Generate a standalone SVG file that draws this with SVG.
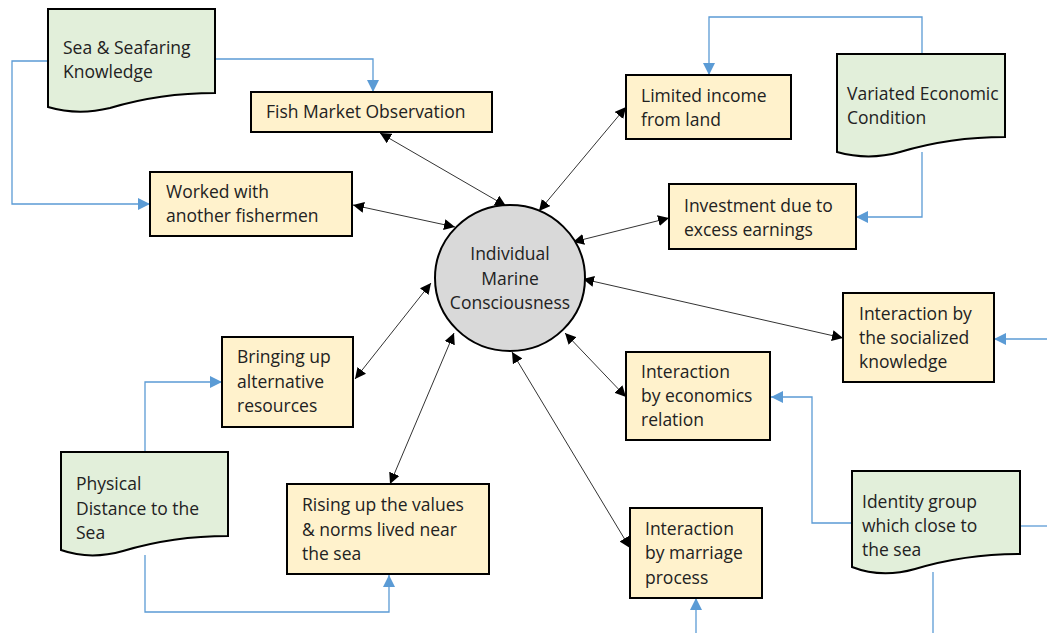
<svg xmlns="http://www.w3.org/2000/svg" width="1047" height="633" viewBox="0 0 1047 633">
<defs>
<style>
.box{fill:#FFF2CC;stroke:#000;stroke-width:2}
.doc{fill:#E2EFDA;stroke:#000;stroke-width:2}
.ctr{fill:#D9D9D9;stroke:#000;stroke-width:2}
.t{font-family:"Open Sans","Liberation Sans",sans-serif;font-size:17.5px;fill:#222}
.blue{fill:none;stroke:#5B9BD5;stroke-width:1.3}
.blk{fill:none;stroke:#333;stroke-width:1}
</style>
<marker id="ab" viewBox="0 0 10 10" refX="10" refY="5" markerWidth="11" markerHeight="11" markerUnits="userSpaceOnUse" orient="auto-start-reverse"><path d="M0,0 L10,5 L0,10 z" fill="#000"/></marker>
<marker id="bb" viewBox="0 0 10 10" refX="10" refY="5" markerWidth="12" markerHeight="12" markerUnits="userSpaceOnUse" orient="auto"><path d="M0,0 L10,5 L0,10 z" fill="#5B9BD5"/></marker>
</defs>
<rect width="1047" height="633" fill="#fff"/>
<g id="connectors">
<path class="blue" d="M48,61 H12 V204 H150" marker-end="url(#bb)"/>
<path class="blue" d="M215,59 H373 V92" marker-end="url(#bb)"/>
<path class="blue" d="M922,54 V17 H709 V75" marker-end="url(#bb)"/>
<path class="blue" d="M922,152 V217 H856" marker-end="url(#bb)"/>
<path class="blue" d="M1047,339 H994" marker-end="url(#bb)"/>
<path class="blue" d="M852,523 H812 V397 H771" marker-end="url(#bb)"/>
<path class="blue" d="M1020,526 H1047"/>
<path class="blue" d="M933,572 V633"/>
<path class="blue" d="M696,633 V598" marker-end="url(#bb)"/>
<path class="blue" d="M145,452 V382 H222" marker-end="url(#bb)"/>
<path class="blue" d="M145,555 V612 H389 V575" marker-end="url(#bb)"/>
<line class="blk" x1="380" y1="133" x2="506" y2="206" marker-start="url(#ab)" marker-end="url(#ab)"/>
<line class="blk" x1="353" y1="205" x2="455" y2="227" marker-start="url(#ab)" marker-end="url(#ab)"/>
<line class="blk" x1="626" y1="107" x2="539" y2="211" marker-start="url(#ab)" marker-end="url(#ab)"/>
<line class="blk" x1="669" y1="218" x2="573" y2="242" marker-start="url(#ab)" marker-end="url(#ab)"/>
<line class="blk" x1="843" y1="338" x2="583" y2="279" marker-start="url(#ab)" marker-end="url(#ab)"/>
<line class="blk" x1="626" y1="397" x2="565" y2="333" marker-start="url(#ab)" marker-end="url(#ab)"/>
<line class="blk" x1="630" y1="548" x2="512" y2="352" marker-start="url(#ab)" marker-end="url(#ab)"/>
<line class="blk" x1="390" y1="484" x2="454" y2="333" marker-start="url(#ab)" marker-end="url(#ab)"/>
<line class="blk" x1="355" y1="379" x2="431" y2="283" marker-start="url(#ab)" marker-end="url(#ab)"/>
</g>
<g id="center">
<ellipse class="ctr" cx="510" cy="278" rx="75" ry="73"/>
<text class="t" text-anchor="middle"><tspan x="510" y="260">Individual</tspan><tspan x="510" y="285">Marine</tspan><tspan x="510" y="309">Consciousness</tspan></text>
</g>
<g id="sea-knowledge">
<path class="doc" d="M48,9 H215 V93 C175,93 140,99 110,108 C85,114 65,112 48,107 Z"/>
<text class="t"><tspan x="63" y="54">Sea &amp; Seafaring</tspan><tspan x="63" y="78">Knowledge</tspan></text>
</g>
<g id="fish-market">
<rect class="box" x="251" y="92" width="241" height="40"/>
<text class="t" x="266" y="118">Fish Market Observation</text>
</g>
<g id="worked">
<rect class="box" x="150" y="172" width="202" height="64"/>
<text class="t"><tspan x="166" y="198">Worked with</tspan><tspan x="166" y="222">another fishermen</tspan></text>
</g>
<g id="limited-income">
<rect class="box" x="626" y="75" width="165" height="64"/>
<text class="t"><tspan x="641" y="102">Limited income</tspan><tspan x="641" y="126">from land</tspan></text>
</g>
<g id="variated">
<path class="doc" d="M837,54 H1005 V137 C965,137 930,143 900,152 C875,159 855,157 837,152 Z"/>
<text class="t"><tspan x="847" y="100">Variated Economic</tspan><tspan x="847" y="124">Condition</tspan></text>
</g>
<g id="investment">
<rect class="box" x="669" y="184" width="187" height="65"/>
<text class="t"><tspan x="684" y="212">Investment due to</tspan><tspan x="684" y="236">excess earnings</tspan></text>
</g>
<g id="socialized">
<rect class="box" x="843" y="293" width="151" height="89"/>
<text class="t"><tspan x="859" y="320">Interaction by</tspan><tspan x="859" y="344">the socialized</tspan><tspan x="859" y="368">knowledge</tspan></text>
</g>
<g id="economics">
<rect class="box" x="626" y="352" width="144" height="88"/>
<text class="t"><tspan x="641" y="378">Interaction</tspan><tspan x="641" y="402">by economics</tspan><tspan x="641" y="426">relation</tspan></text>
</g>
<g id="marriage">
<rect class="box" x="630" y="508" width="132" height="90"/>
<text class="t"><tspan x="645" y="535">Interaction</tspan><tspan x="645" y="559">by marriage</tspan><tspan x="645" y="584">process</tspan></text>
</g>
<g id="identity">
<path class="doc" d="M852,471 H1020 V554 C980,554 945,560 915,569 C890,576 870,574 852,567 Z"/>
<text class="t"><tspan x="862" y="508">Identity group</tspan><tspan x="862" y="532">which close to</tspan><tspan x="862" y="556">the sea</tspan></text>
</g>
<g id="bringing">
<rect class="box" x="222" y="337" width="131" height="90"/>
<text class="t"><tspan x="237" y="363">Bringing up</tspan><tspan x="237" y="388">alternative</tspan><tspan x="237" y="412">resources</tspan></text>
</g>
<g id="physical">
<path class="doc" d="M61,452 H228 V536 C188,536 153,542 123,551 C98,558 78,556 61,550 Z"/>
<text class="t"><tspan x="76" y="490">Physical</tspan><tspan x="76" y="515">Distance to the</tspan><tspan x="76" y="539">Sea</tspan></text>
</g>
<g id="rising">
<rect class="box" x="287" y="484" width="202" height="90"/>
<text class="t"><tspan x="302" y="511">Rising up the values</tspan><tspan x="302" y="536">&amp; norms lived near</tspan><tspan x="302" y="560">the sea</tspan></text>
</g>
</svg>
